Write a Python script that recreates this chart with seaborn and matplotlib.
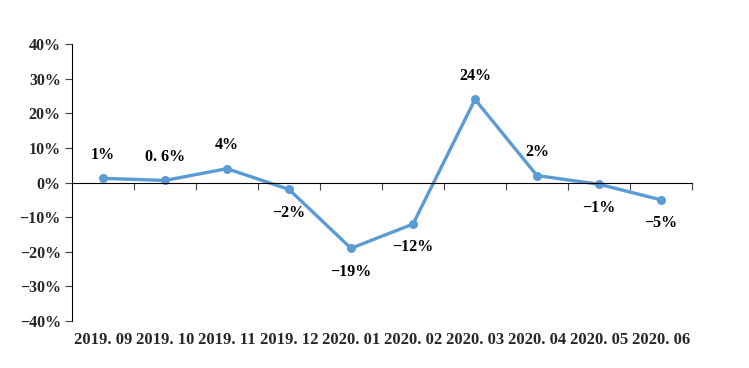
import matplotlib
matplotlib.use("Agg")
import matplotlib.pyplot as plt
import numpy as np
import pandas as pd
import seaborn as sns

months = ["2019. 09", "2019. 10", "2019. 11", "2019. 12", "2020. 01",
          "2020. 02", "2020. 03", "2020. 04", "2020. 05", "2020. 06"]
growth = [1.2, 0.6, 4.0, -2.0, -19.0, -12.0, 24.0, 2.0, -0.5, -5.0]
point_labels = ["1%", "0. 6%", "4%", "-2%", "-19%", "-12%", "24%", "2%", "-1%", "-5%"]
label_above = [True, True, True, False, False, False, True, True, False, False]
y_ticks = [-40, -30, -20, -10, 0, 10, 20, 30, 40]

sns.set_theme(style="white")
plt.rcParams["font.family"] = ["Liberation Serif", "DejaVu Serif"]
plt.rcParams["font.weight"] = "bold"

df = pd.DataFrame({"pos": np.arange(len(months)), "growth": growth})

fig = plt.figure(figsize=(7.49, 3.68), dpi=100)
ax = fig.add_axes([0.0961, 0.1277, 0.8278, 0.7527])

sns.lineplot(data=df, x="pos", y="growth", ax=ax, color="#5B9BD5",
             linewidth=2.4, marker="o", markersize=6.5, markeredgewidth=0)

for x, y, txt, up in zip(df["pos"], growth, point_labels, label_above):
    ax.annotate(txt.replace("-", "\u2212"), (x, y),
                xytext=(0, 11 if up else -11), textcoords="offset points",
                ha="center", va="bottom" if up else "top",
                fontsize=11.5, fontweight="bold", color="black")

ax.set_xlim(-0.5, len(months) - 0.5)
ax.set_ylim(-40, 40)
ax.set_yticks(y_ticks)
ax.set_yticklabels([f"{v}%".replace("-", "\u2212") for v in y_ticks],
                   fontsize=11.5, fontweight="bold")
ax.tick_params(axis="y", direction="out", length=5, width=0.8, color="#444444",
               left=True, pad=3)

for side in ["top", "right"]:
    ax.spines[side].set_visible(False)
ax.spines["left"].set_color("black")
ax.spines["left"].set_linewidth(0.8)
ax.spines["bottom"].set_position(("data", 0))
ax.spines["bottom"].set_color("black")
ax.spines["bottom"].set_linewidth(0.8)

boundaries = np.arange(len(months) + 1) - 0.5
ax.set_xticks(boundaries[1:])
ax.set_xticklabels([])
ax.tick_params(axis="x", direction="out", length=5, width=0.8, color="#444444",
               bottom=True)
ax.set_xlabel("")
ax.set_ylabel("")

sec = ax.secondary_xaxis("bottom")
sec.set_xticks(df["pos"])
sec.set_xticklabels(months, fontsize=12, fontweight="bold")
sec.tick_params(length=0, pad=8)
sec.spines["bottom"].set_visible(False)

fig.savefig("out.png", dpi=100)
